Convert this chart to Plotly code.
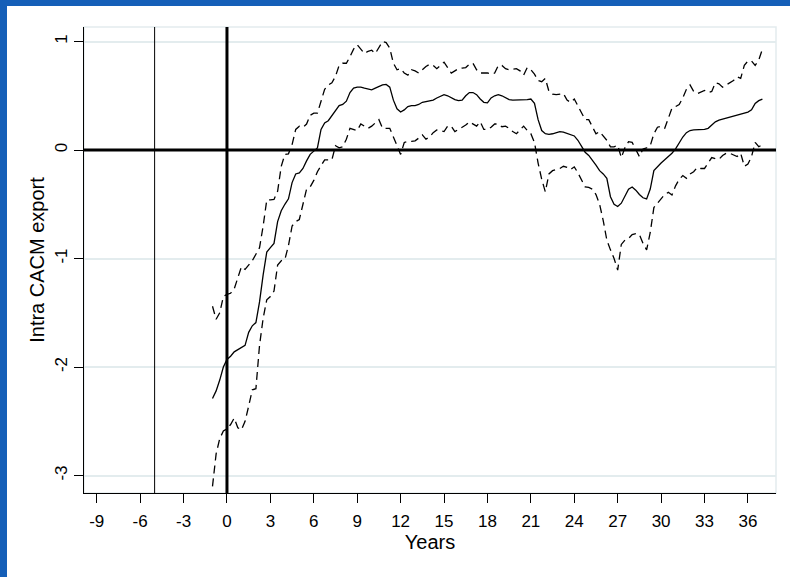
import numpy as np
import plotly.graph_objects as go

# Quarterly event time, in years relative to the agreement
years = np.arange(-1, 37.001, 0.25)

# Point estimate
estimate = [
    -2.29, -2.22, -2.12, -2.00,
    -1.93, -1.90, -1.86, -1.84,
    -1.82, -1.80, -1.68, -1.62,
    -1.59, -1.40, -1.15, -0.94,
    -0.90, -0.86, -0.66, -0.56,
    -0.50, -0.45, -0.30, -0.22,
    -0.21, -0.17, -0.10, -0.04,
    -0.01, 0.02, 0.19, 0.25,
    0.27, 0.32, 0.37, 0.41,
    0.42, 0.45, 0.53, 0.57,
    0.58, 0.58, 0.57, 0.56,
    0.555, 0.57, 0.585, 0.60,
    0.605, 0.58, 0.46, 0.38,
    0.35, 0.37, 0.40, 0.41,
    0.41, 0.42, 0.44, 0.445,
    0.45, 0.46, 0.48, 0.495,
    0.51, 0.50, 0.48, 0.465,
    0.455, 0.46, 0.50, 0.53,
    0.53, 0.51, 0.47, 0.44,
    0.435, 0.48, 0.50, 0.51,
    0.50, 0.48, 0.465, 0.46,
    0.46, 0.46, 0.46, 0.465,
    0.47, 0.43, 0.28, 0.18,
    0.15, 0.145, 0.15, 0.16,
    0.17, 0.165, 0.155, 0.145,
    0.13, 0.09, 0.03, -0.02,
    -0.05, -0.09, -0.14, -0.19,
    -0.22, -0.26, -0.43, -0.50,
    -0.52, -0.49, -0.43, -0.36,
    -0.34, -0.37, -0.41, -0.44,
    -0.45, -0.36, -0.19, -0.15,
    -0.12, -0.09, -0.06, -0.03,
    0.01, 0.07, 0.12, 0.16,
    0.18, 0.185, 0.185, 0.19,
    0.19, 0.20, 0.23, 0.26,
    0.275, 0.285, 0.29, 0.30,
    0.31, 0.32, 0.33, 0.34,
    0.35, 0.37, 0.43, 0.455,
    0.47,
]

# Upper confidence bound
upper = [
    -1.44, -1.56, -1.50, -1.35,
    -1.33, -1.32, -1.28, -1.18,
    -1.075, -1.10, -1.06, -1.02,
    -0.96, -0.90, -0.70, -0.46,
    -0.46, -0.455, -0.38, -0.15,
    -0.04, -0.035, 0.05, 0.19,
    0.22, 0.21, 0.24, 0.32,
    0.34, 0.34, 0.45, 0.56,
    0.60, 0.62, 0.68, 0.78,
    0.80, 0.80, 0.86, 0.93,
    0.97, 0.93, 0.89, 0.91,
    0.92, 0.89, 0.94, 1.00,
    0.99, 0.94, 0.80, 0.74,
    0.75, 0.71, 0.69, 0.74,
    0.73, 0.71, 0.74, 0.77,
    0.79, 0.78, 0.75, 0.78,
    0.81, 0.76, 0.71, 0.73,
    0.75, 0.755, 0.76, 0.79,
    0.80, 0.74, 0.71, 0.71,
    0.71, 0.70, 0.71, 0.78,
    0.78, 0.75, 0.74, 0.745,
    0.75, 0.73, 0.69, 0.76,
    0.74, 0.70, 0.64, 0.63,
    0.66, 0.54, 0.515, 0.51,
    0.515, 0.52, 0.46, 0.44,
    0.47, 0.41, 0.34, 0.28,
    0.28, 0.22, 0.15, 0.17,
    0.13, 0.09, 0.03, 0.03,
    0.045, -0.07, 0.02, 0.077,
    0.07, 0.00, -0.06, 0.01,
    0.02, 0.04, 0.15, 0.21,
    0.22, 0.20, 0.30, 0.385,
    0.40, 0.42, 0.48, 0.56,
    0.60, 0.54, 0.52, 0.535,
    0.55, 0.53, 0.54, 0.62,
    0.61, 0.58, 0.60, 0.62,
    0.64, 0.675, 0.66, 0.78,
    0.82, 0.82, 0.78, 0.83,
    0.93,
]

# Lower confidence bound
lower = [
    -3.10, -2.80, -2.66, -2.59,
    -2.57, -2.53, -2.47, -2.56,
    -2.58, -2.50, -2.36, -2.21,
    -2.20, -1.80, -1.55, -1.38,
    -1.35, -1.30, -1.06, -1.02,
    -1.01, -0.88, -0.70, -0.66,
    -0.64, -0.50, -0.36, -0.34,
    -0.28, -0.20, -0.14, -0.09,
    -0.09, -0.09, 0.04, 0.02,
    0.03, 0.10, 0.20, 0.19,
    0.18, 0.24, 0.22, 0.20,
    0.22, 0.25, 0.28, 0.20,
    0.20, 0.20, 0.12, 0.03,
    -0.04, 0.07, 0.08, 0.08,
    0.085, 0.11, 0.14, 0.10,
    0.12, 0.16, 0.185, 0.18,
    0.17, 0.22, 0.22, 0.17,
    0.19, 0.21, 0.23, 0.26,
    0.24, 0.22, 0.26, 0.19,
    0.19, 0.21, 0.24, 0.24,
    0.215, 0.22, 0.20, 0.17,
    0.15, 0.19, 0.22, 0.18,
    0.15, 0.07, -0.12, -0.27,
    -0.385, -0.22, -0.19, -0.18,
    -0.17, -0.15, -0.16, -0.18,
    -0.155, -0.21, -0.28, -0.34,
    -0.345, -0.36, -0.41, -0.50,
    -0.65, -0.83, -0.92, -1.00,
    -1.106, -0.87, -0.83, -0.815,
    -0.78, -0.77, -0.78, -0.86,
    -0.92, -0.76, -0.53, -0.49,
    -0.46, -0.41, -0.39, -0.415,
    -0.33, -0.27, -0.235, -0.26,
    -0.22, -0.20, -0.16, -0.17,
    -0.17, -0.12, -0.07, -0.08,
    -0.085, -0.05, -0.03, -0.03,
    -0.045, -0.06, -0.03, -0.15,
    -0.13, -0.06, 0.07, 0.03,
    0.05,
]

x_ticks = list(range(-9, 37, 3))
x_labels = [str(v) for v in x_ticks]
y_ticks = [-3, -2, -1, 0, 1]
y_labels = [str(v) for v in y_ticks]

W, H = 790, 577
ML, MR, MT, MB = 84, 14, 27, 84
pw, ph = W - ML - MR, H - MT - MB

font = "Liberation Sans, Arial, sans-serif"
grid = "#e3ecee"

fig = go.Figure()
for series, dash in ((upper, "8px,5px"), (lower, "8px,5px"), (estimate, "solid")):
    fig.add_trace(go.Scatter(
        x=years, y=series, mode="lines",
        line=dict(color="black", width=1.3, dash=dash),
        hoverinfo="skip", showlegend=False,
    ))

shapes = [
    # white slide panel over the blue frame
    dict(type="rect", xref="paper", yref="paper", layer="below",
         x0=(7 - ML) / pw, x1=(W - ML) / pw + 0.01,
         y0=-(H - MT - ph) / ph - 0.01, y1=(ph + MT - 6) / ph,
         fillcolor="white", line=dict(width=0)),
    # plot region outline
    dict(type="rect", xref="x domain", yref="y domain", layer="below",
         x0=0, x1=1, y0=0, y1=1, line=dict(color=grid, width=1.5)),
    # reference lines
    dict(type="line", xref="x", yref="y domain", x0=-5, x1=-5, y0=0, y1=1,
         line=dict(color="black", width=1)),
    dict(type="line", xref="x", yref="y domain", x0=0, x1=0, y0=0, y1=1,
         line=dict(color="black", width=3)),
    dict(type="line", xref="x domain", yref="y", x0=0, x1=1, y0=0, y1=0,
         line=dict(color="black", width=3)),
]

fig.update_layout(
    width=W, height=H,
    margin=dict(l=ML, r=MR, t=MT, b=MB),
    paper_bgcolor="#155fb8",
    plot_bgcolor="white",
    font=dict(family=font, size=17, color="black"),
    shapes=shapes,
    xaxis=dict(
        range=[-9.88, 37.94], tickvals=x_ticks, ticktext=x_labels,
        ticks="outside", ticklen=9,
        tickcolor="black", showgrid=False, zeroline=False,
        showline=True, linecolor="black", linewidth=1,
        ticklabelstandoff=4,
        title=dict(text="Years", standoff=0), tickfont=dict(size=17),
    ),
    yaxis=dict(
        range=[-3.161, 1.134], tickvals=y_ticks, ticktext=y_labels,
        ticks="outside", ticklen=9,
        tickcolor="black", tickangle=-90, showgrid=True, gridcolor=grid,
        gridwidth=1.5, zeroline=False, showline=True, linecolor="black",
        linewidth=1, title=dict(text="Intra CACM export", standoff=2),
        tickfont=dict(size=17),
    ),
)

fig.write_html("out.html")
